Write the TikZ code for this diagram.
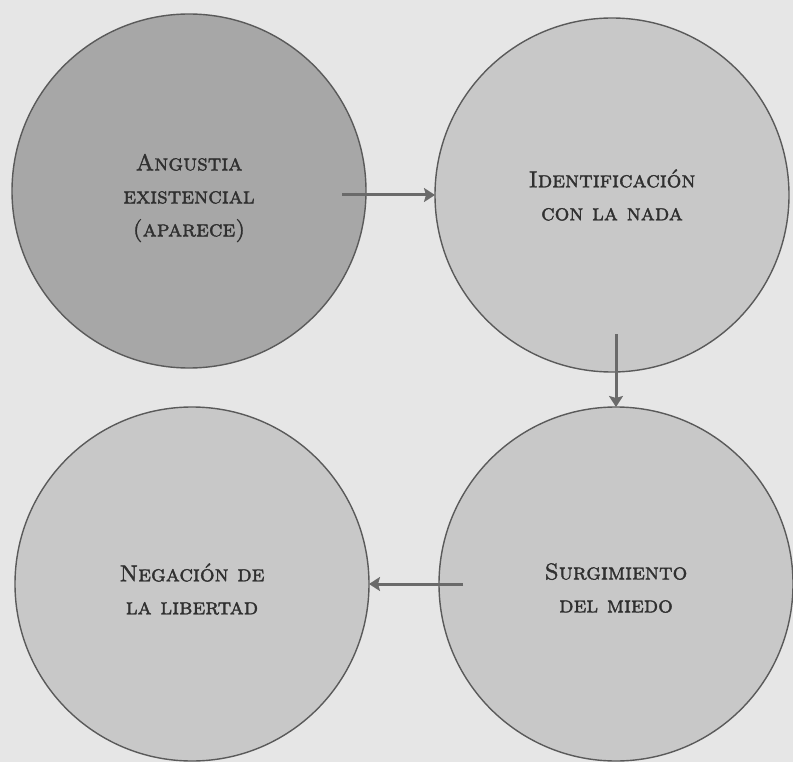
\documentclass[tikz,border=0pt]{standalone}
\usepackage{fontspec}
\newfontfamily\scf[FakeBold=1.6]{lmromancaps10-regular.otf}
\usetikzlibrary{arrows.meta}
\definecolor{bgc}{HTML}{E6E6E6}
\definecolor{darkfill}{HTML}{A7A7A7}
\definecolor{lightfill}{HTML}{C8C8C8}
\definecolor{edgec}{HTML}{5A5A5A}
\definecolor{txtc}{HTML}{303030}
\definecolor{arrc}{HTML}{6A6A6A}
\tikzset{
  bubble/.style={circle, draw=edgec, line width=1.4pt, inner sep=0pt, outer sep=0pt,
    minimum size=354pt},
  label text/.style={text=txtc, align=center, inner sep=0pt,
    font=\fontsize{23}{33}\selectfont\scf},
  flow/.style={draw=arrc, line width=3pt, -{Stealth[length=11pt,width=14pt,inset=2pt]}}
}
\begin{document}
\begin{tikzpicture}[x=1pt,y=-1pt]
\fill[bgc] (0,0) rectangle (793,762);
\useasboundingbox (0,0) rectangle (793,762);
\node[bubble, fill=darkfill] (a) at (189,191) {};
\node[bubble, fill=lightfill] (b) at (612,195) {};
\node[bubble, fill=lightfill] (c) at (192,584) {};
\node[bubble, fill=lightfill] (d) at (616,584) {};
\node[label text] (ta) at ([yshift=-7pt]a.center) {Angustia\\existencial\\(aparece)};
\node[label text] (tb) at ([yshift=0pt]b.center) {Identificación\\con la nada};
\node[label text] (tc) at ([yshift=-5pt]c.center) {Negación de\\la libertad};
\node[label text] (td) at ([yshift=-4pt]d.center) {Surgimiento\\del miedo};
\draw[flow] ([xshift=-24pt,yshift=-4pt]a.east) -- (b.west);
\draw[flow] ([xshift=4pt,yshift=38pt]b.south) -- (d.north);
\draw[flow] ([xshift=24pt]d.west) -- (c.east);
\end{tikzpicture}
\end{document}
